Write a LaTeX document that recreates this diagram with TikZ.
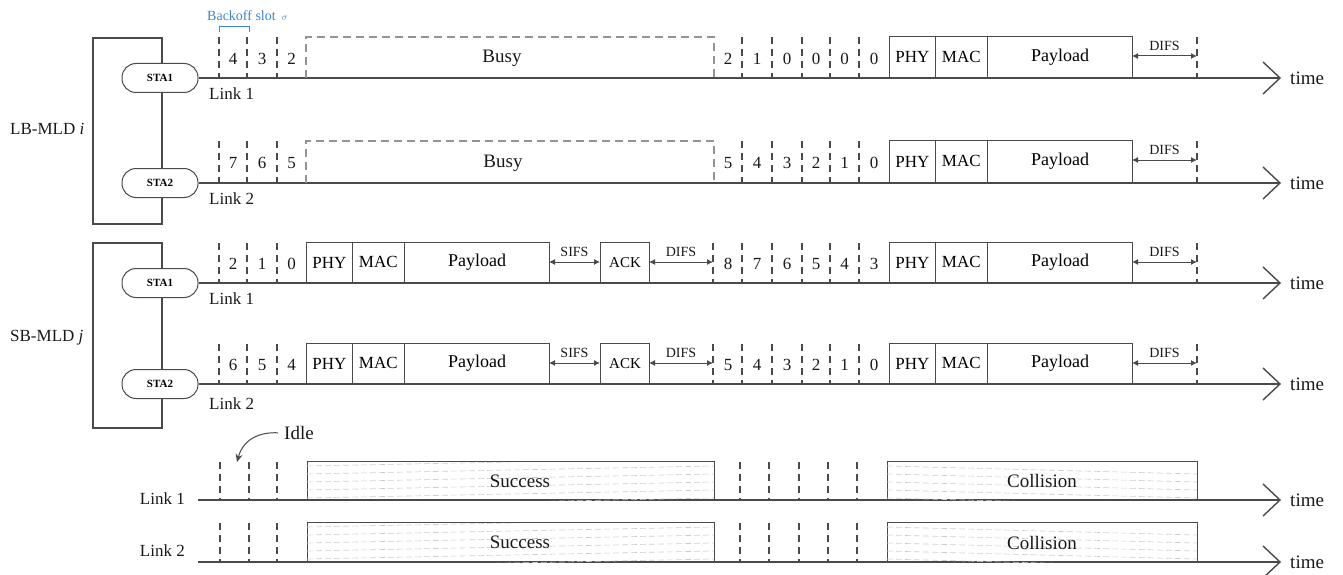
\documentclass[tikz,border=0pt]{standalone}
\usepackage{fontspec}
\setmainfont{Liberation Serif}
\usetikzlibrary{arrows.meta}
\definecolor{ln}{HTML}{4A4A4A}
\definecolor{bl}{HTML}{3F86C8}
\tikzset{
  tline/.style={draw=ln, line width=1.4pt},
  grp/.style={draw=ln, line width=1.2pt},
  slotline/.style={draw=ln, line width=1.1pt, dash pattern=on 7pt off 5pt},
  busyline/.style={draw=gray!85, line width=1.5pt, dash pattern=on 8pt off 5pt},
  lbl/.style={font=\fontsize{17}{20}\selectfont, text=black!90, inner sep=0pt},
  biglbl/.style={font=\fontsize{19}{22}\selectfont, text=black!90, inner sep=0pt},
  sml/.style={font=\fontsize{14}{16}\selectfont, text=black!90, inner sep=0pt},
  pbox/.style={draw=ln, line width=1.1pt, inner sep=0pt, font=\fontsize{17}{20}\selectfont},
  stabox/.style={draw=ln, line width=1pt, fill=white, rounded corners=14pt, minimum width=76pt, minimum height=29pt, inner sep=0pt, font=\fontsize{11}{13}\selectfont\bfseries},
  gaparrow/.style={{Latex[length=6pt,width=6pt]}-{Latex[length=6pt,width=6pt]}, draw=ln, line width=1pt},
  hatchline/.style={draw=gray!40, line width=0.6pt, dash pattern=on 6pt off 3pt},
}
% digits: id, ymid, list x/d
\newcommand\digs[3]{\foreach \xx/\dd [count=\kk] in {#3} {\node[lbl] (#1n\kk) at (\xx,#2) {\dd};}}
% vertical dashed slot lines: Y, T, list of x
\newcommand\vls[3]{\foreach \xx in {#3} {\draw[slotline] (\xx,#2) -- (\xx,#1);}}
% frame: id, Y, T, x0
\newcommand\pframe[4]{%
  \node[pbox, minimum width=45.5pt, minimum height={(#2-#3)*1pt}, anchor=south west] (#1phy) at (#4,#2) {PHY};
  \node[pbox, minimum width=52.5pt, minimum height={(#2-#3)*1pt}, anchor=south west] (#1mac) at ({#4+45.5},#2) {MAC};
  \node[pbox, minimum width=145pt, minimum height={(#2-#3)*1pt}, anchor=south west, font=\fontsize{18}{21}\selectfont] (#1pay) at ({#4+98},#2) {Payload};
}
% gap arrow: id, T, xa, xb, label
\newcommand\gapar[5]{%
  \coordinate (#1a) at (#3,{#2+19});
  \coordinate (#1b) at (#4,{#2+19});
  \draw[gaparrow] (#1a) -- (#1b);
  \node[sml] (#1l) at ({(#3+#4)/2},{#2+9}) {#5};
}
% time line end: id, start node, Y
\newcommand\tl[3]{%
  \coordinate (#1e) at (1280,#3);
  \draw[tline] (#2) -- (#1e);
  \draw[tline] (#1e) ++(-17,-16) -- (#1e) -- ++(-17,16);
  \node[biglbl, anchor=west] (#1t) at (1290,#3) {time};
}
% textured box: id, Y, T, x0, x1, label, label x, slope
\newcommand\tbox[8]{%
  \node[draw=ln, line width=1.2pt, inner sep=0pt, minimum width={(#5-#4)*1pt}, minimum height={(#2-#3)*1pt}, anchor=south west] (#1) at (#4,#2) {};
  \begin{scope}
    \clip (#4,#3) rectangle (#5,#2);
    \foreach \oo in {4,12,20,28,36,44} {\draw[hatchline] (#4,{#3+\oo}) -- (#5,{#3+\oo-#8});}
  \end{scope}
  \node[biglbl] (#1t) at (#7,{(#2+#3)/2}) {#6};
}
\begin{document}
\begin{tikzpicture}[x=1pt,y=-1pt]
\useasboundingbox (0,0) rectangle (1343,575);

% ---------- groups ----------
\draw[grp] (93,38) rectangle (162,224);
\draw[grp] (93,243) rectangle (162,428);
\node[lbl, anchor=west] (lb) at (10,129) {LB-MLD \textit{i}};
\node[lbl, anchor=west] (sb) at (10,338) {SB-MLD \textit{j}};
\node[stabox] (s1) at (160,78) {STA1};
\node[stabox] (s2) at (160,183) {STA2};
\node[stabox] (s3) at (160,283) {STA1};
\node[stabox] (s4) at (160,384) {STA2};

% backoff slot annotation
\node[font=\fontsize{14}{16}\selectfont, text=bl, anchor=west, inner sep=0pt] (bo) at (207,16) {Backoff slot\, {\fontsize{10}{11}\selectfont$\sigma$}};
\draw[bl, line width=1pt] (219,32) -- (219,27) -- (249,27) -- (249,32);

% ---------- row 1 : LB STA1 ----------
\tl{r1}{s1.east}{78}
\node[lbl, anchor=west] (l1) at (209,94) {Link 1};
\vls{78}{37}{219,247,277,742,772,802,830,859,1197}
\draw[busyline] (306,78) -- (306,37) -- (714,37) -- (714,78);
\node[biglbl] (r1busy) at (502,58) {Busy};
\digs{r1}{59}{233/4,262/3,291.5/2,728/2,757/1,787/0,816/0,844.5/0,874/0}
\pframe{r1}{78}{37}{889}
\gapar{r1d}{37}{1132}{1197}{DIFS}

% ---------- row 2 : LB STA2 ----------
\tl{r2}{s2.east}{183}
\node[lbl, anchor=west] (l2) at (209,199) {Link 2};
\vls{183}{141}{219,247,277,742,772,802,830,859,1197}
\draw[busyline] (306,183) -- (306,141) -- (714,141) -- (714,183);
\node[biglbl] (r2busy) at (503,163) {Busy};
\digs{r2}{163}{233/7,262/6,291.5/5,728/5,757/4,787/3,816/2,844.5/1,874/0}
\pframe{r2}{183}{141}{889}
\gapar{r2d}{141}{1132}{1197}{DIFS}

% ---------- row 3 : SB STA1 ----------
\tl{r3}{s3.east}{283}
\node[lbl, anchor=west] (l3) at (209,299) {Link 1};
\vls{283}{243}{219,247,277,713,742,772,802,830,859,1197}
\digs{r3}{264}{233/2,262/1,291.5/0,728/8,757/7,787/6,816/5,844.5/4,874/3}
\pframe{r3a}{283}{243}{306}
\gapar{r3s}{243}{549}{600}{SIFS}
\node[pbox, minimum width=49pt, minimum height=40pt, anchor=south west, font=\fontsize{15}{17}\selectfont] (r3ack) at (600,283) {ACK};
\gapar{r3d}{243}{649}{713}{DIFS}
\pframe{r3b}{283}{243}{889}
\gapar{r3e}{243}{1132}{1197}{DIFS}

% ---------- row 4 : SB STA2 ----------
\tl{r4}{s4.east}{384}
\node[lbl, anchor=west] (l4) at (209,404) {Link 2};
\vls{384}{344}{219,247,277,713,742,772,802,830,859,1197}
\digs{r4}{365}{233/6,262/5,291.5/4,728/5,757/4,787/3,816/2,844.5/1,874/0}
\pframe{r4a}{384}{344}{306}
\gapar{r4s}{344}{549}{600}{SIFS}
\node[pbox, minimum width=49pt, minimum height=40pt, anchor=south west, font=\fontsize{15}{17}\selectfont] (r4ack) at (600,384) {ACK};
\gapar{r4d}{344}{649}{713}{DIFS}
\pframe{r4b}{384}{344}{889}
\gapar{r4e}{344}{1132}{1197}{DIFS}

% ---------- bottom : channel view ----------
\node[biglbl, anchor=west] (idle) at (284,433) {Idle};
\coordinate (idt) at (237,462);
\draw[-{Stealth[length=8pt,width=7pt]}, draw=ln, line width=1pt, shorten <=6pt] (idle.west) .. controls (258,432) and (243,440) .. (idt);

\coordinate (b1s) at (198,500);
\node[lbl, anchor=east] (bl1) at (185,499) {Link 1};
\tl{b1}{b1s}{500}
\vls{500}{462}{220,249,277,740,769,799,828,857}
\tbox{b1x}{500}{462}{307}{714}{Success}{520}{8}
\tbox{b1y}{500}{462}{887}{1197}{Collision}{1042}{-8}

\coordinate (b2s) at (198,562);
\node[lbl, anchor=east] (bl2) at (185,551) {Link 2};
\tl{b2}{b2s}{562}
\vls{562}{523}{220,249,277,740,769,799,828,857}
\tbox{b2x}{562}{523}{307}{714}{Success}{520}{8}
\tbox{b2y}{562}{523}{887}{1197}{Collision}{1042}{-8}
\end{tikzpicture}
\end{document}
